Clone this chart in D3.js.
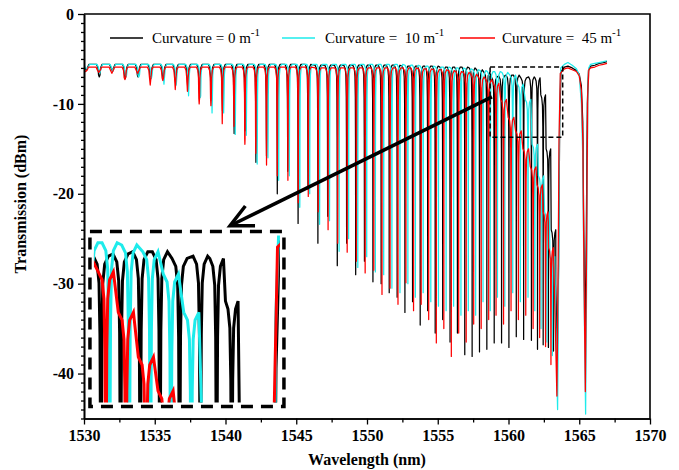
<!DOCTYPE html>
<html><head><meta charset="utf-8">
<script src="https://cdn.jsdelivr.net/npm/d3@7"></script>
<style>body{margin:0;background:#fff}svg{display:block}</style>
</head><body>
<svg id="c" width="679" height="470"></svg>
<script>
// ---------- data ----------
const xTicks = [1530,1535,1540,1545,1550,1555,1560,1565,1570];
const yTicks = [0,-10,-20,-30,-40];
const seriesLabels = ["Curvature = 0 m","Curvature =  10 m","Curvature =  45 m"];
const seriesColors = ["#000000","#1EEBEB","#FF0000"];

const blackDipNm = [1530.15,1531.08,1532.00,1532.92,1533.82,1534.71,1535.60,1536.47,1537.33,1538.16,1538.99,1539.79,1540.61,1541.38,1542.15,1542.90,1543.66,1544.40,1545.13,1545.83,1546.53,1547.22,1547.90,1548.56,1549.20,1549.82,1550.42,1551.00,1551.57,1552.13,1552.68,1553.22,1553.76,1554.29,1554.82,1555.35,1555.87,1556.39,1556.91,1557.43,1557.95,1558.47,1558.99,1559.51,1560.03,1560.55,1561.07,1561.62,1562.05,1562.45,1562.82,1563.18];
const blackDipDb = [-6.2,-7.0,-6.3,-7.2,-7.0,-7.0,-7.2,-7.6,-8.2,-8.8,-9.6,-10.8,-13.3,-13.0,-16.5,-15.8,-20.0,-17.5,-23.3,-19.5,-25.5,-22.5,-28.0,-25.5,-29.0,-27.5,-29.8,-30.0,-31.0,-31.5,-33.2,-32.0,-34.6,-33.0,-35.5,-34.0,-36.5,-35.5,-37.9,-38.1,-37.6,-37.3,-36.6,-36.6,-37.1,-35.9,-36.2,-36.3,-37.3,-36.8,-37.1,-37.5];
const blackTopDb = [-5.6,-5.6,-5.6,-5.6,-5.6,-5.6,-5.6,-5.6,-5.6,-5.6,-5.6,-5.6,-5.6,-5.6,-5.6,-5.6,-5.6,-5.6,-5.6,-5.6,-5.7,-5.7,-5.7,-5.7,-5.7,-5.7,-5.7,-5.7,-5.7,-5.7,-5.8,-5.8,-5.8,-5.8,-5.8,-5.9,-5.9,-5.9,-5.9,-6.0,-6.2,-6.5,-7.0,-6.9,-6.8,-6.8,-7.1,-7.0,-7.1,-9.0,-15.0,-24.0];
const blackTailNm = [1563.34,1563.45,1563.54,1563.62,1563.71,1563.95,1564.20,1564.50,1564.80,1565.00,1565.15,1565.25,1565.32,1565.42,1565.50,1565.57,1565.65,1565.80,1566.10,1566.40,1566.70,1566.96];
const blackTailDb = [-30.0,-38.5,-28.0,-12.0,-6.4,-5.9,-5.8,-6.0,-6.3,-6.7,-8.0,-12.0,-24.0,-36.0,-24.0,-10.0,-6.3,-5.8,-5.7,-5.5,-5.4,-5.3];

const cyanDipNm = [1530.19,1531.12,1532.04,1532.96,1533.87,1534.76,1535.65,1536.52,1537.39,1538.22,1539.05,1539.87,1540.69,1541.47,1542.24,1543.00,1543.76,1544.51,1545.25,1545.95,1546.65,1547.35,1548.03,1548.70,1549.35,1549.98,1550.59,1551.18,1551.76,1552.33,1552.89,1553.42,1553.97,1554.51,1555.05,1555.59,1556.12,1556.64,1557.16,1557.68,1558.20,1558.71,1559.22,1559.74,1560.30,1560.84,1561.38,1561.86,1562.30,1562.72,1563.10];
const cyanDipDb = [-6.1,-6.6,-6.4,-6.9,-7.0,-7.2,-7.8,-7.9,-9.1,-9.3,-11.0,-11.0,-13.4,-13.5,-16.7,-16.0,-18.5,-18.0,-21.5,-20.0,-23.4,-23.0,-26.4,-25.0,-28.2,-27.0,-28.7,-29.0,-30.5,-31.0,-30.0,-31.5,-31.0,-32.0,-32.5,-33.0,-32.5,-33.5,-33.0,-33.5,-32.0,-33.0,-31.5,-32.5,-31.0,-32.0,-31.5,-33.0,-35.0,-36.5,-38.0];
const cyanTopDb = [-5.6,-5.6,-5.6,-5.6,-5.6,-5.6,-5.6,-5.6,-5.6,-5.6,-5.6,-5.6,-5.6,-5.6,-5.6,-5.6,-5.6,-5.6,-5.6,-5.6,-5.6,-5.6,-5.6,-5.6,-5.6,-5.6,-5.6,-5.6,-5.6,-5.6,-5.7,-5.7,-5.8,-5.8,-5.9,-5.9,-6.0,-6.0,-6.1,-6.2,-6.3,-6.4,-6.4,-6.5,-6.8,-7.8,-9.5,-14.5,-18.0,-22.0,-27.0];
const cyanTailNm = [1563.31,1563.47,1563.55,1563.61,1563.69,1563.95,1564.20,1564.50,1564.80,1565.00,1565.15,1565.25,1565.33,1565.45,1565.53,1565.60,1565.67,1565.80,1566.10,1566.40,1566.70,1566.96];
const cyanTailDb = [-32.0,-44.0,-28.0,-10.0,-6.0,-5.6,-5.4,-5.7,-6.1,-6.8,-10.0,-16.0,-30.0,-44.5,-28.0,-10.0,-6.0,-5.6,-5.5,-5.4,-5.3,-5.2];

const redDipNm = [1530.12,1531.05,1531.97,1532.89,1533.79,1534.68,1535.57,1536.45,1537.31,1538.14,1538.97,1539.77,1540.60,1541.37,1542.14,1542.90,1543.66,1544.41,1545.14,1545.85,1546.55,1547.25,1547.93,1548.60,1549.25,1549.87,1550.48,1551.06,1551.63,1552.19,1552.75,1553.29,1553.83,1554.36,1554.90,1555.43,1555.96,1556.48,1557.01,1557.54,1558.07,1558.60,1559.12,1559.65,1560.18,1560.70,1561.22,1561.74,1562.20,1562.62,1563.00];
const redDipDb = [-6.4,-6.5,-6.6,-7.3,-6.6,-7.9,-7.4,-8.4,-8.6,-10.0,-10.2,-12.2,-12.5,-14.5,-15.5,-16.8,-18.0,-18.5,-21.0,-20.3,-22.0,-24.0,-25.5,-26.5,-27.5,-28.8,-28.5,-31.2,-30.5,-32.3,-29.9,-33.0,-32.3,-34.0,-36.6,-35.0,-38.1,-35.5,-36.5,-34.5,-35.0,-34.0,-33.5,-34.5,-33.0,-34.0,-33.5,-35.0,-36.0,-37.0,-39.0];
const redTopDb = [-5.9,-5.9,-5.9,-5.9,-5.9,-5.9,-5.9,-5.9,-5.9,-5.9,-5.9,-5.9,-5.9,-5.9,-5.9,-5.9,-5.9,-5.9,-5.9,-5.9,-6.0,-6.0,-6.0,-6.0,-6.0,-6.0,-6.0,-6.0,-6.0,-6.0,-6.0,-6.0,-6.1,-6.1,-6.2,-6.2,-6.3,-6.4,-6.5,-6.7,-7.0,-7.3,-7.7,-9.5,-11.5,-13.0,-15.0,-17.0,-19.0,-22.0,-26.0];
const redTailNm = [1563.30,1563.42,1563.50,1563.57,1563.66,1563.95,1564.20,1564.50,1564.80,1565.00,1565.15,1565.25,1565.33,1565.43,1565.52,1565.60,1565.68,1565.80,1566.10,1566.40,1566.70,1566.96];
const redTailDb = [-34.0,-42.5,-30.0,-14.0,-6.6,-6.1,-6.0,-6.2,-6.4,-6.9,-8.5,-14.0,-28.0,-42.0,-26.0,-9.0,-6.2,-6.0,-5.9,-5.7,-5.6,-5.5];

// annotation placement in data units
const zoomBoxNm = [1558.7, 1563.83], zoomBoxDb = [-13.7, -5.9];
const insetNm = [1530.42, 1544.13], insetDb = [-43.67, -24.2];
const arrowNm = [1558.83, 1540.32], arrowDb = [-9.22, -23.56];

// ---------- drawing ----------
const svg = d3.select("#c");
const X0 = 84, X1 = 650, Y0 = 14, Y1 = 418.5;
const x = d3.scaleLinear().domain([1530,1570]).range([X0,X1]);
const y = d3.scaleLinear().domain([-45,0]).range([Y1,Y0]);
const FONT = "'Liberation Serif','Times New Roman',serif";

const series = [
  {dn:blackDipNm, dd:blackDipDb, td:blackTopDb, tn:blackTailNm, tdb:blackTailDb, c:seriesColors[0]},
  {dn:cyanDipNm, dd:cyanDipDb, td:cyanTopDb, tn:cyanTailNm, tdb:cyanTailDb, c:seriesColors[1]},
  {dn:redDipNm, dd:redDipDb, td:redTopDb, tn:redTailNm, tdb:redTailDb, c:seriesColors[2]}
];

// notch glyph used to draw each read dip: [half-offset nm, dB below plateau]
const NOTCH = [[0.1,0.35],[0.05,1.2],[0.025,3.5],[0.012,8.0],[0.005,15.0],[0.002,22.0]];
function trace(s){
  const pts = [], n = s.dn.length;
  for(let i=0;i<n;i++){
    const c = s.dn[i], top = s.td[i], full = top - s.dd[i];
    const gp = i>0 ? c-s.dn[i-1] : s.dn[1]-s.dn[0];
    const gn = i<n-1 ? s.dn[i+1]-c : gp;
    const w = Math.min(0.2, 0.45*Math.min(gp,gn));
    const side = NOTCH.filter(p=>p[1]<full);
    pts.push([c-w, top]);
    side.forEach(p=>pts.push([c-p[0], top-p[1]]));
    pts.push([c, s.dd[i]]);
    side.slice().reverse().forEach(p=>pts.push([c+p[0], top-p[1]]));
    pts.push([c+w, top]);
  }
  s.tn.forEach((t,k)=>pts.push([t, s.tdb[k]]));
  return pts;
}
series.forEach(s=>s.pts = trace(s));

const defs = svg.append("defs");
defs.append("clipPath").attr("id","plotClip").append("rect")
  .attr("x",X0).attr("y",Y0).attr("width",X1-X0).attr("height",Y1-Y0);

const gMain = svg.append("g").attr("clip-path","url(#plotClip)");
const line = d3.line().x(d=>x(d[0])).y(d=>y(d[1]));
series.forEach(s=>{
  gMain.append("path").attr("d",line(s.pts)).attr("fill","none")
    .attr("stroke",s.c).attr("stroke-width",1.25).attr("stroke-linejoin","round");
});

// axes
const axL = svg.append("g").attr("transform",`translate(${X0},0)`)
  .call(d3.axisLeft(y).tickValues(yTicks).tickSize(6).tickSizeOuter(0).tickFormat(d=>String(d)));
const axLm = svg.append("g").attr("transform",`translate(${X0},0)`)
  .call(d3.axisLeft(y).tickValues(d3.range(-45,1,1).filter(v=>v%10!==0)).tickSize(3).tickSizeOuter(0).tickFormat(""));
const axB = svg.append("g").attr("transform",`translate(0,${Y1})`)
  .call(d3.axisBottom(x).tickValues(xTicks).tickSize(6).tickSizeOuter(0).tickFormat(d=>String(d)));
const axBm = svg.append("g").attr("transform",`translate(0,${Y1})`)
  .call(d3.axisBottom(x).tickValues(xTicks.slice(0,-1).map(v=>v+2.5)).tickSize(4).tickSizeOuter(0).tickFormat(""));
[axL,axLm,axB,axBm].forEach(g=>{
  g.selectAll("path.domain").attr("stroke","#000").attr("stroke-width",1.6);
  g.selectAll(".tick line").attr("stroke","#000").attr("stroke-width",1.3);
  g.selectAll(".tick text").attr("font-family",FONT).attr("font-size",16)
   .attr("font-weight","bold").attr("fill","#000");
});
axL.selectAll(".tick text").attr("x",-10);
axB.selectAll(".tick text").attr("y",11);
svg.append("path").attr("d",`M${X0},${Y0}H${X1}V${Y1}`).attr("fill","none")
  .attr("stroke","#000").attr("stroke-width",1.6);

// axis titles
svg.append("text").attr("x",(X0+X1)/2).attr("y",465).attr("text-anchor","middle")
  .attr("font-family",FONT).attr("font-size",16).attr("font-weight","bold").text("Wavelength (nm)");
svg.append("text").attr("transform","translate(26,204) rotate(-90)").attr("text-anchor","middle")
  .attr("font-family",FONT).attr("font-size",16).attr("font-weight","bold").text("Transmission (dBm)");

// legend
const legX = [[110,143,152],[282,315,325],[460,495,502]];
seriesLabels.forEach((lab,i)=>{
  svg.append("line").attr("x1",legX[i][0]).attr("x2",legX[i][1]).attr("y1",38).attr("y2",38)
    .attr("stroke",seriesColors[i]).attr("stroke-width",1.6);
  const t = svg.append("text").attr("x",legX[i][2]).attr("y",43)
    .attr("font-family",FONT).attr("font-size",15).style("white-space","pre");
  t.append("tspan").text(lab);
  t.append("tspan").attr("dy",-7).attr("font-size",11).text("-1");
});

// small dashed zoom box
svg.append("rect").attr("x",x(zoomBoxNm[0])).attr("y",y(zoomBoxDb[1]))
  .attr("width",x(zoomBoxNm[1])-x(zoomBoxNm[0])).attr("height",y(zoomBoxDb[0])-y(zoomBoxDb[1]))
  .attr("fill","none").attr("stroke","#000").attr("stroke-width",1.5).attr("stroke-dasharray","5,3");

// inset (magnified view of the zoom box)
const ix0 = x(insetNm[0]), ix1 = x(insetNm[1]), iy0 = y(insetDb[1]), iy1 = y(insetDb[0]);
const xi = d3.scaleLinear().domain(zoomBoxNm).range([ix0,ix1]);
const yi = d3.scaleLinear().domain(zoomBoxDb).range([iy1,iy0]);
const pad = 4;
defs.append("clipPath").attr("id","insetClip").append("rect")
  .attr("x",ix0+pad).attr("y",iy0+pad).attr("width",ix1-ix0-2*pad).attr("height",iy1-iy0-2*pad);
svg.append("rect").attr("x",ix0).attr("y",iy0).attr("width",ix1-ix0).attr("height",iy1-iy0).attr("fill","#fff");
const gIn = svg.append("g").attr("clip-path","url(#insetClip)");
const lineIn = d3.line().x(d=>xi(d[0])).y(d=>yi(d[1]));
series.forEach(s=>{
  gIn.append("path").attr("d",lineIn(s.pts)).attr("fill","none")
    .attr("stroke",s.c).attr("stroke-width",3);
});
svg.append("rect").attr("x",ix0).attr("y",iy0).attr("width",ix1-ix0).attr("height",iy1-iy0)
  .attr("fill","none").attr("stroke","#000").attr("stroke-width",3.5).attr("stroke-dasharray","12,8");

// arrow
const ax0 = x(arrowNm[0]), ay0 = y(arrowDb[0]), ax1 = x(arrowNm[1]), ay1 = y(arrowDb[1]);
const ang = Math.atan2(ay0-ay1, ax0-ax1), L = 25, sp = 26*Math.PI/180;
svg.append("line").attr("x1",ax0).attr("y1",ay0).attr("x2",ax1).attr("y2",ay1)
  .attr("stroke","#000").attr("stroke-width",3.5);
svg.append("path")
  .attr("d",`M${ax1+L*Math.cos(ang-sp)},${ay1+L*Math.sin(ang-sp)}L${ax1},${ay1}L${ax1+L*Math.cos(ang+sp)},${ay1+L*Math.sin(ang+sp)}`)
  .attr("fill","none").attr("stroke","#000").attr("stroke-width",3.5).attr("stroke-linejoin","miter");
</script>
</body></html>
